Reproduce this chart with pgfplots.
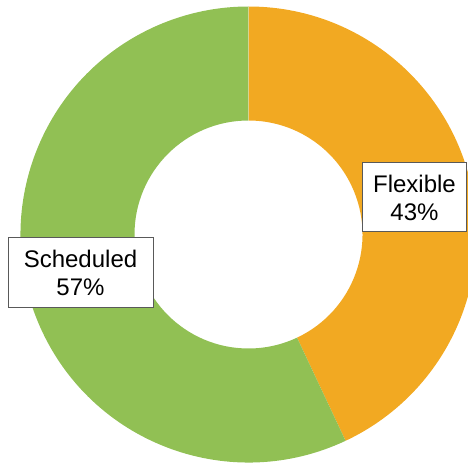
\documentclass[border=0pt]{standalone}
\usepackage{pgfplots}
\usepackage{pgfplotstable}
\usepackage{fontspec}
\setmainfont{Liberation Sans}
\pgfplotsset{compat=1.18}
\definecolor{flex}{RGB}{242,169,34}
\definecolor{sched}{RGB}{145,192,84}
\pgfplotstableread{
label value
Flexible 43
Scheduled 57
}\slices
\begin{document}
\begin{tikzpicture}
\pgfplotstablegetelem{0}{value}\of\slices \let\vA\pgfplotsretval
\pgfplotstablegetelem{1}{value}\of\slices \let\vB\pgfplotsretval
\pgfmathsetmacro{\angA}{90-\vA/(\vA+\vB)*360}
\pgfmathsetmacro{\angB}{\angA-\vB/(\vA+\vB)*360}
\def\cx{248.5}\def\cy{228.5}\def\Ro{228pt}\def\Ri{114pt}
\begin{axis}[width=468pt,height=463pt,scale only axis,hide axis,
  xmin=0,xmax=468,ymin=0,ymax=463,clip=true,
  /pgf/number format/assume math mode=true]
\fill[flex] (axis cs:\cx,\cy) ++(90:\Ro) arc[start angle=90,end angle=\angA,radius=\Ro]
  -- ([shift={(\angA:\Ri)}]axis cs:\cx,\cy) arc[start angle=\angA,end angle=90,radius=\Ri] -- cycle;
\fill[sched] (axis cs:\cx,\cy) ++(\angA:\Ro) arc[start angle=\angA,end angle=\angB,radius=\Ro]
  -- ([shift={(\angB:\Ri)}]axis cs:\cx,\cy) arc[start angle=\angB,end angle=\angA,radius=\Ri] -- cycle;
\node[draw=black!65,line width=1pt,fill=white,align=center,minimum width=104pt,minimum height=69pt,
  font=\fontsize{24}{28}\selectfont] at (axis cs:414.5,265.5) {Flexible\\\pgfmathprintnumber[assume math mode=true]{\vA}\%};
\node[draw=black!65,line width=1pt,fill=white,align=center,minimum width=145pt,minimum height=70pt,
  font=\fontsize{24}{28}\selectfont] at (axis cs:80.5,190.5) {Scheduled\\\pgfmathprintnumber[assume math mode=true]{\vB}\%};
\end{axis}
\pgfresetboundingbox
\useasboundingbox (0,0) rectangle (468pt,463pt);
\end{tikzpicture}
\end{document}
